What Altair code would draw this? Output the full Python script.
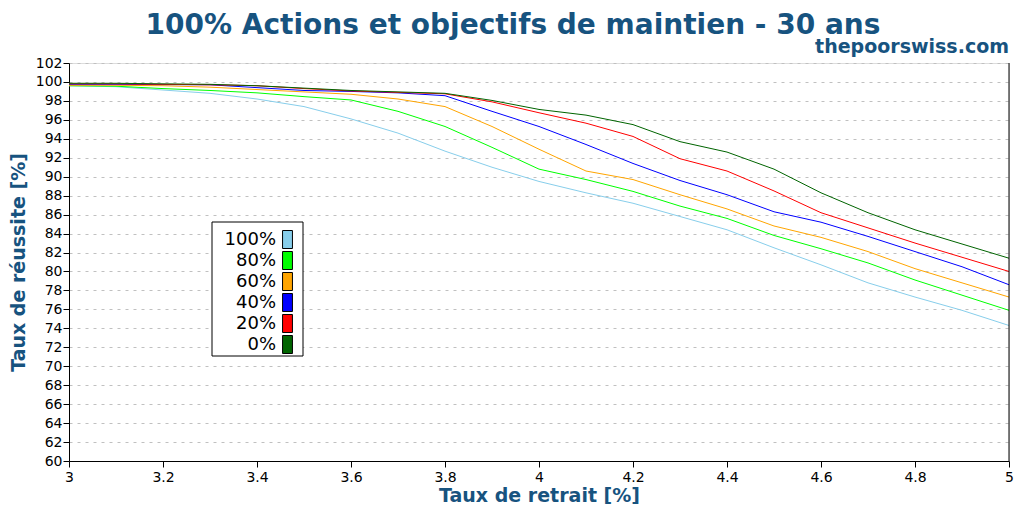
import altair as alt
import pandas as pd

# ---------------- data ----------------
x_vals = [3.0, 3.1, 3.2, 3.3, 3.4, 3.5, 3.6, 3.7, 3.8, 3.9, 4.0,
          4.1, 4.2, 4.3, 4.4, 4.5, 4.6, 4.7, 4.8, 4.9, 5.0]

series_names = ["100%", "80%", "60%", "40%", "20%", "0%"]
series_colors = ["#87ceeb", "#00ff00", "#ffa500", "#0000ff", "#ff0000", "#006400"]

s100 = [99.6, 99.5, 99.15, 98.8, 98.2, 97.4, 96.1, 94.6, 92.7, 91.0, 89.5,
        88.3, 87.2, 85.8, 84.4, 82.5, 80.7, 78.8, 77.3, 75.9, 74.3]
s80 = [99.6, 99.55, 99.3, 99.1, 98.85, 98.45, 98.1, 96.9, 95.3, 93.1, 90.8,
       89.7, 88.45, 86.9, 85.6, 83.8, 82.4, 80.9, 79.1, 77.5, 75.9]
s60 = [99.65, 99.65, 99.6, 99.45, 99.2, 98.95, 98.7, 98.2, 97.4, 95.3, 92.9,
       90.6, 89.7, 88.1, 86.6, 84.8, 83.6, 82.1, 80.3, 78.8, 77.3]
s40 = [99.75, 99.75, 99.72, 99.7, 99.4, 99.1, 99.0, 98.85, 98.55, 96.9, 95.3,
       93.4, 91.4, 89.6, 88.1, 86.3, 85.2, 83.7, 82.1, 80.5, 78.6]
s20 = [99.8, 99.8, 99.75, 99.7, 99.6, 99.3, 99.05, 98.9, 98.75, 97.9, 96.75,
       95.65, 94.25, 91.9, 90.6, 88.5, 86.2, 84.6, 83.0, 81.5, 80.0]
s0 = [99.86, 99.86, 99.8, 99.75, 99.6, 99.35, 99.1, 98.95, 98.8, 98.05, 97.1,
      96.5, 95.5, 93.7, 92.6, 90.8, 88.3, 86.2, 84.4, 82.9, 81.4]

x_ticks = [3, 3.2, 3.4, 3.6, 3.8, 4, 4.2, 4.4, 4.6, 4.8, 5]
y_ticks = [60, 62, 64, 66, 68, 70, 72, 74, 76, 78, 80, 82, 84, 86, 88, 90,
           92, 94, 96, 98, 100, 102]

title_text = ["100% Actions et objectifs de maintien - 30 ans"]
subtitle_text = ["thepoorswiss.com"]
x_title = "Taux de retrait [%]"
y_title = "Taux de réussite [%]"

TITLE_COLOR = "#17537f"
FONT = "DejaVu Sans"

rows = []
for name, vals in zip(series_names, [s100, s80, s60, s40, s20, s0]):
    for xv, yv in zip(x_vals, vals):
        rows.append({"x": xv, "y": yv, "series": name})
df = pd.DataFrame(rows)

W, H = 940, 398

x_enc = alt.X("x:Q", scale=alt.Scale(domain=[3, 5], nice=False),
              axis=alt.Axis(values=x_ticks, format="~g", grid=False,
                            title=x_title, titleFontSize=19, titleFont=FONT,
                            titleFontWeight="bold", titleColor=TITLE_COLOR,
                            titlePadding=2, labelFontSize=14, labelFont=FONT,
                            labelColor="black", domainColor="black",
                            tickColor="black", tickSize=6, labelPadding=3,
                            labelFlush=False, labelOverlap=False))
y_enc = alt.Y("y:Q", scale=alt.Scale(domain=[60, 102], nice=False),
              axis=alt.Axis(values=y_ticks, tickCount=22, grid=True,
                            gridColor="#c0c0c0",
                            gridDash=[3, 5], gridWidth=1,
                            title=y_title, titleFontSize=19, titleFont=FONT,
                            titleFontWeight="bold", titleColor=TITLE_COLOR,
                            titlePadding=7, labelFontSize=14, labelFont=FONT,
                            labelColor="black", domainColor="black",
                            tickColor="black", tickSize=6, labelPadding=1,
                            labelOverlap=False, labelFlush=False))

lines = alt.Chart(df).mark_line(strokeWidth=1).encode(
    x=x_enc, y=y_enc,
    color=alt.Color("series:N",
                    scale=alt.Scale(domain=series_names, range=series_colors),
                    legend=None),
)

legend_box = alt.Chart(pd.DataFrame({"a": [0]})).mark_rect(
    fill="white", stroke="black", strokeWidth=1).encode(
    x=alt.value(143), x2=alt.value(234), y=alt.value(159), y2=alt.value(293))

legend_layer = alt.Chart(df).transform_filter("false").mark_point(
    filled=True, shape="M-0.55,-1H0.55V1H-0.55Z", stroke="black",
    strokeWidth=1, opacity=1,
).encode(
    fill=alt.Fill("series:N",
                  scale=alt.Scale(domain=series_names, range=series_colors),
                  legend=alt.Legend(title=None, orient="none", legendX=201,
                                    legendY=159, symbolSize=324,
                                    symbolStrokeColor="black",
                                    symbolStrokeWidth=1, symbolOpacity=1,
                                    labelFontSize=18, labelFont=FONT,
                                    labelColor="black", labelAlign="right",
                                    labelOffset={"expr": "-21"},
                                    rowPadding={"expr": "-3"},
                                    padding=8, cornerRadius=0)),
)

right_border = alt.Chart(pd.DataFrame({"a": [0]})).mark_rule(
    color="black", strokeWidth=1).encode(
    x=alt.value(W), y=alt.value(0), y2=alt.value(H))

title = alt.Chart(pd.DataFrame({"t": title_text})).mark_text(
    font=FONT, fontSize=28, fontWeight="bold", color=TITLE_COLOR,
    align="center", baseline="alphabetic").encode(
    text="t:N", x=alt.value(444), y=alt.value(-29))

subtitle = alt.Chart(pd.DataFrame({"t": subtitle_text})).mark_text(
    font=FONT, fontSize=19, fontWeight="bold", color=TITLE_COLOR,
    align="right", baseline="alphabetic").encode(
    text="t:N", x=alt.value(W), y=alt.value(-10))

chart = alt.layer(lines, legend_box, legend_layer, right_border, title,
                  subtitle).resolve_scale(
    color="independent", fill="independent"
).properties(
    width=W, height=H,
    autosize=alt.AutoSizeParams(type="none"),
    padding={"left": 61, "top": 55, "right": 7, "bottom": 43},
).configure_view(stroke=None).configure(background="white")

chart.save("out.html", embed_options={"renderer": "svg", "actions": False})
